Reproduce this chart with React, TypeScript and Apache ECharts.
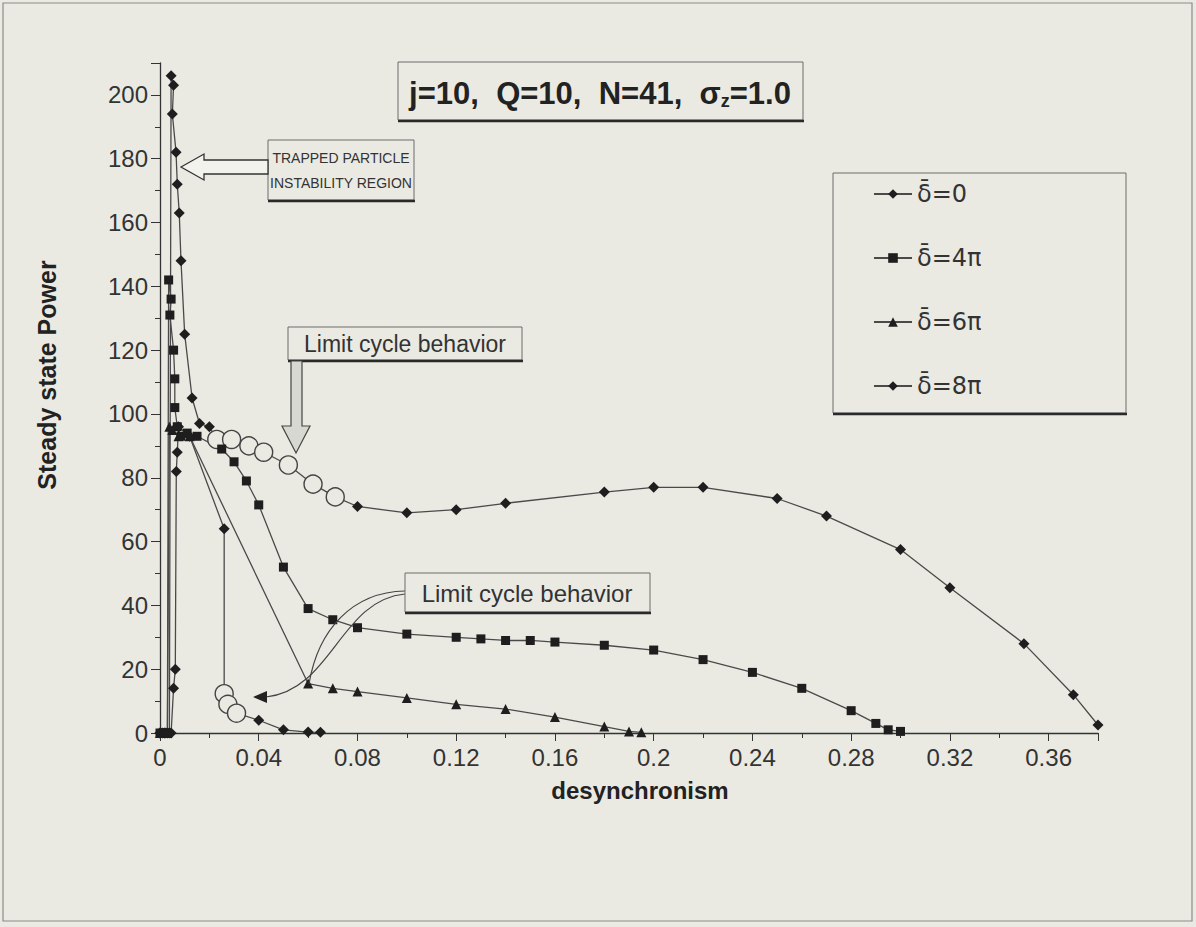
import React, { useEffect, useRef } from "react";
import * as echarts from "echarts";

// ---------- data ----------
const seriesNames = ["\u03B4\u0304=0", "\u03B4\u0304=4\u03C0", "\u03B4\u0304=6\u03C0", "\u03B4\u0304=8\u03C0"];

const d0X = [0, 0.002, 0.0038, 0.0045, 0.0055, 0.005, 0.0065, 0.007, 0.0078, 0.0085, 0.01, 0.013, 0.016, 0.02, 0.023, 0.029, 0.036, 0.042, 0.052, 0.062, 0.071, 0.08, 0.1, 0.12, 0.14, 0.18, 0.2, 0.22, 0.25, 0.27, 0.3, 0.32, 0.35, 0.37, 0.38, 0.383];
const d0Y = [0, 0, 0, 206, 203, 194, 182, 172, 163, 148, 125, 105, 97, 96, 92, 92, 90, 88, 84, 78, 74, 71, 69, 70, 72, 75.5, 77, 77, 73.5, 68, 57.5, 45.5, 28, 12, 2.5, 0.5];
const d0LimitCycle = [14, 15, 16, 17, 18, 19, 20];

const d4X = [0, 0.002, 0.003, 0.0035, 0.0045, 0.004, 0.0055, 0.006, 0.006, 0.007, 0.0085, 0.011, 0.015, 0.025, 0.03, 0.035, 0.04, 0.05, 0.06, 0.07, 0.08, 0.1, 0.12, 0.13, 0.14, 0.15, 0.16, 0.18, 0.2, 0.22, 0.24, 0.26, 0.28, 0.29, 0.295, 0.3];
const d4Y = [0, 0, 0, 142, 136, 131, 120, 111, 102, 96, 93, 94, 93, 89, 85, 79, 71.5, 52, 39, 35.5, 33, 31, 30, 29.5, 29, 29, 28.5, 27.5, 26, 23, 19, 14, 7, 3, 1, 0.5];

const d6X = [0, 0.002, 0.003, 0.0038, 0.005, 0.0075, 0.012, 0.06, 0.07, 0.08, 0.1, 0.12, 0.14, 0.16, 0.18, 0.19, 0.195];
const d6Y = [0, 0, 0, 96, 95, 93, 93, 15.5, 14, 13, 11, 9, 7.5, 5, 2, 0.5, 0.2];

const d8X = [0, 0.001, 0.002, 0.003, 0.0045, 0.0055, 0.0062, 0.0066, 0.007, 0.0075, 0.012, 0.026, 0.026, 0.0275, 0.031, 0.04, 0.05, 0.06, 0.065];
const d8Y = [0, 0, 0, 0, 0, 14, 20, 82, 88, 96, 93, 64, 12.3, 9, 6.2, 4, 1, 0.3, 0.2];
const d8LimitCycle = [12, 13, 14];

const titleText = ["j=10,  Q=10,  N=41,  \u03C3", "z", "=1.0"];
const xTitle = "desynchronism";
const yTitle = "Steady state Power";
const trappedText = "TRAPPED PARTICLE\nINSTABILITY REGION";
const limitText = "Limit cycle behavior";

// ---------- styles ----------
const BG = "#eaeae3";
const INK = "#1e1e1e";
const LINE = "#4a4a4a";
const FONT = "'Liberation Sans', Arial, sans-serif";

function buildData(xs: number[], ys: number[], circles: number[] = []) {
  return xs.map((x, i) =>
    circles.includes(i)
      ? {
          value: [x, ys[i]],
          symbol: "circle",
          symbolSize: 18,
          itemStyle: { color: BG, borderColor: "#444", borderWidth: 1.4 },
        }
      : { value: [x, ys[i]] }
  );
}

function lineSeries(name: string, data: any[], symbol: string, size: number) {
  return {
    type: "line",
    name,
    data,
    symbol,
    symbolSize: size,
    showAllSymbol: true,
    lineStyle: { color: LINE, width: 1.3 },
    itemStyle: { color: INK },
    emphasis: { disabled: true },
  };
}

function boxWithShadow(x: number, y: number, w: number, h: number) {
  return [
    {
      type: "rect",
      shape: { x, y, width: w, height: h },
      style: { fill: "rgba(0,0,0,0)", stroke: "#6a6a6a", lineWidth: 1 },
      z: 10,
    },
    {
      type: "line",
      shape: { x1: x, y1: y + h + 1, x2: x + w + 1, y2: y + h + 1 },
      style: { stroke: "#2a2a2a", lineWidth: 2.5 },
      z: 10,
    },
  ];
}

export default function App() {
  const ref = useRef<HTMLDivElement>(null);

  useEffect(() => {
    if (!ref.current) return;
    const chart = echarts.init(ref.current, null, { renderer: "svg" });

    const option: any = {
      animation: false,
      backgroundColor: BG,
      grid: { left: 160, right: 98, top: 63, bottom: 194, containLabel: false },
      legend: {
        orient: "vertical",
        left: 868,
        top: 177,
        itemGap: 40,
        itemWidth: 38,
        itemHeight: 12,
        selectedMode: false,
        textStyle: { fontSize: 24, color: "#333", fontFamily: "'DejaVu Sans', sans-serif" },
        data: seriesNames,
      },
      xAxis: {
        type: "value",
        min: 0,
        max: 0.38,
        interval: 0.04,
        splitLine: { show: false },
        axisLine: { lineStyle: { color: "#333", width: 1.3 } },
        axisTick: { show: true, length: 8, lineStyle: { color: "#333" } },
        minorTick: { show: true, splitNumber: 2, length: 5, lineStyle: { color: "#333" } },
        axisLabel: {
          fontSize: 24,
          color: "#333",
          fontFamily: FONT,
          margin: 12,
          showMaxLabel: false,
          formatter: (v: number) => String(Math.round(v * 100) / 100),
        },
      },
      yAxis: {
        type: "value",
        min: 0,
        max: 210,
        interval: 20,
        splitLine: { show: false },
        axisLine: { show: true, lineStyle: { color: "#333", width: 1.3 } },
        axisTick: { show: true, length: 9, lineStyle: { color: "#333" } },
        minorTick: { show: true, splitNumber: 2, length: 5, lineStyle: { color: "#333" } },
        axisLabel: {
          fontSize: 24,
          color: "#333",
          fontFamily: FONT,
          margin: 12,
          showMaxLabel: false,
        },
      },
      series: [
        lineSeries(seriesNames[0], buildData(d0X, d0Y, d0LimitCycle), "diamond", 11),
        lineSeries(seriesNames[1], buildData(d4X, d4Y), "rect", 9),
        lineSeries(seriesNames[2], buildData(d6X, d6Y), "triangle", 10),
        lineSeries(seriesNames[3], buildData(d8X, d8Y, d8LimitCycle), "diamond", 11),
      ],
      graphic: [
        // outer frame
        {
          type: "rect",
          shape: { x: 3, y: 3, width: 1189, height: 918 },
          style: { fill: "rgba(0,0,0,0)", stroke: "#8a8a8a", lineWidth: 1.2 },
          silent: true,
        },
        // axis titles
        {
          type: "text",
          x: 47,
          y: 375,
          rotation: Math.PI / 2,
          style: {
            text: yTitle,
            font: `bold 25px ${FONT}`,
            fill: "#222",
            align: "center",
            verticalAlign: "middle",
          },
        },
        {
          type: "text",
          x: 640,
          y: 790,
          style: {
            text: xTitle,
            font: `bold 24px ${FONT}`,
            fill: "#222",
            align: "center",
            verticalAlign: "middle",
          },
        },
        // title box
        ...boxWithShadow(398, 62, 405, 58),
        {
          type: "text",
          x: 600,
          y: 93,
          z: 11,
          style: {
            text: `{a|${titleText[0]}}{s|${titleText[1]}}{a|${titleText[2]}}`,
            align: "center",
            verticalAlign: "middle",
            rich: {
              a: { font: `bold 31px ${FONT}`, fill: "#222" },
              s: { font: `bold 18px ${FONT}`, fill: "#222", padding: [16, 0, 0, 0] },
            },
          },
        },
        // legend box
        ...boxWithShadow(833, 173, 293, 240),
        // trapped particle box
        ...boxWithShadow(268, 140, 146, 60),
        {
          type: "text",
          x: 341,
          y: 170,
          z: 11,
          style: {
            text: trappedText,
            font: `14px ${FONT}`,
            fill: "#333",
            align: "center",
            verticalAlign: "middle",
            lineHeight: 25,
          },
        },
        {
          type: "polygon",
          z: 11,
          shape: {
            points: [
              [181, 167],
              [204, 154],
              [204, 160],
              [268, 160],
              [268, 174],
              [204, 174],
              [204, 180],
            ],
          },
          style: { fill: "#f3f3ee", stroke: "#333", lineWidth: 1.3 },
        },
        // upper limit cycle box + arrow
        ...boxWithShadow(288, 327, 234, 33),
        {
          type: "text",
          x: 405,
          y: 344,
          z: 11,
          style: {
            text: limitText,
            font: `23px ${FONT}`,
            fill: "#333",
            align: "center",
            verticalAlign: "middle",
          },
        },
        {
          type: "polygon",
          z: 11,
          shape: {
            points: [
              [291, 361],
              [302, 361],
              [302, 426],
              [310, 426],
              [296, 453],
              [282, 426],
              [291, 426],
            ],
          },
          style: { fill: "#d8d8d2", stroke: "#444", lineWidth: 1.2 },
        },
        // lower limit cycle box + curved arrows
        ...boxWithShadow(405, 573, 245, 39),
        {
          type: "text",
          x: 527,
          y: 593,
          z: 11,
          style: {
            text: limitText,
            font: `24px ${FONT}`,
            fill: "#333",
            align: "center",
            verticalAlign: "middle",
          },
        },
        {
          type: "bezierCurve",
          z: 9,
          shape: { x1: 405, y1: 591, cpx1: 352, cpy1: 592, cpx2: 318, cpy2: 630, x2: 309, y2: 684 },
          style: { stroke: "#444", lineWidth: 1.2, fill: null },
        },
        {
          type: "bezierCurve",
          z: 9,
          shape: { x1: 405, y1: 594, cpx1: 340, cpy1: 600, cpx2: 332, cpy2: 690, x2: 266, y2: 697 },
          style: { stroke: "#444", lineWidth: 1.2, fill: null },
        },
        {
          type: "polygon",
          z: 9,
          shape: { points: [[253, 697], [267, 691], [267, 703]] },
          style: { fill: "#222" },
        },
      ],
    };

    chart.setOption(option);
    return () => chart.dispose();
  }, []);

  return (
    <div
      ref={ref}
      style={{ position: "fixed", left: 0, top: 0, width: 1196, height: 927 }}
    />
  );
}
